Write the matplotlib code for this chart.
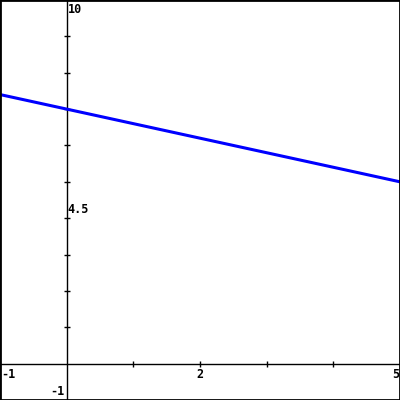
import matplotlib
matplotlib.use("Agg")
import matplotlib.pyplot as plt
import numpy as np

x_range = [-1, 5]
y_range = [-1, 10]
line_x = [-1, 5]
line_y = [7.4, 5.0]
x_ticks = [1, 2, 3, 4]
y_ticks = [1, 2, 3, 4, 5, 6, 7, 8, 9]

fig = plt.figure(figsize=(4, 4), dpi=100)
ax = fig.add_axes([0, 0, 1, 1])
ax.set_xlim(*x_range)
ax.set_ylim(*y_range)
ax.set_xticks([])
ax.set_yticks([])
for s in ax.spines.values():
    s.set_linewidth(2)
    s.set_color("black")

ax.axhline(0, color="black", lw=1.0)
ax.axvline(0, color="black", lw=1.0)
ax.plot(x_ticks, [0]*len(x_ticks), ls="none", marker="|", ms=4, mew=1.0, color="black")
ax.plot([0]*len(y_ticks), y_ticks, ls="none", marker="_", ms=4, mew=1.0, color="black")

ax.plot(line_x, line_y, color="#0000ff", lw=2.2, solid_capstyle="butt")

fp = dict(family="DejaVu Sans Mono", fontweight="bold", fontsize=8.5, color="black")
def lab(x, y, s, dx, dy, ha, va):
    ax.annotate(s, (x, y), xytext=(dx, dy), textcoords="offset pixels", ha=ha, va=va, **fp)

lab(0, 10, "10", 1, -3, "left", "top")
lab(0, 4.5, "4.5", 1, -3, "left", "top")
lab(0, -1, "-1", -2, 2, "right", "bottom")
lab(-1, 0, "-1", 1, -4, "left", "top")
lab(2, 0, "2", 0, -4, "center", "top")
lab(5, 0, "5", -1, -4, "right", "top")

fig.savefig("out.png", dpi=100)
